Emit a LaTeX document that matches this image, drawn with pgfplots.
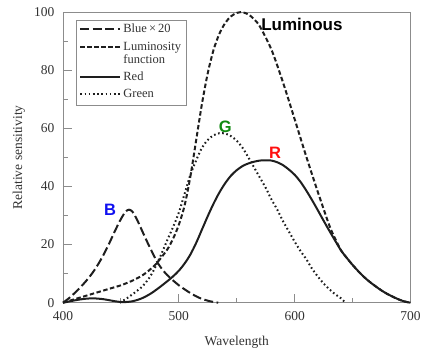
\documentclass[border=0pt]{standalone}
\usepackage{fontspec}
\setmainfont{Liberation Serif}
\newfontfamily\lblfont{Liberation Sans}
\usepackage{pgfplots}
\pgfplotsset{compat=1.18}
\definecolor{axgray}{HTML}{8C8C8C}
\definecolor{txtgray}{HTML}{333333}
\definecolor{curve}{HTML}{1E1E1E}
\definecolor{lblblue}{HTML}{1010F0}
\definecolor{lblgreen}{HTML}{108A10}
\definecolor{lblred}{HTML}{FF1010}
\begin{document}
\begin{tikzpicture}
\begin{axis}[
 scale only axis, width=347.5pt, height=290.7pt,
 xmin=400, xmax=700, ymin=0, ymax=100,
 xtick={400,500,600,700}, ytick={0,20,...,100},
 minor x tick num=1, minor y tick num=1,
 tick align=inside, xtick pos=bottom, ytick pos=left,
 major tick length=9pt, minor tick length=5pt,
 axis line style={axgray, line width=0.9pt},
 tick style={axgray, line width=0.9pt},
 font=\fontsize{13.5}{16}\selectfont,
 /pgf/number format/assume math mode=true,
 tick label style={text=txtgray},
 xticklabel style={yshift=-5pt},
 yticklabel style={xshift=-5pt},
 xlabel={Wavelength}, ylabel={Relative sensitivity},
 xlabel style={at={(axis description cs:0.5,-0.135)}, anchor=center, text=txtgray},
 ylabel style={at={(axis description cs:-0.1266,0.5)}, anchor=center, text=txtgray},
 clip=false,
 legend style={at={(0.0374,0.9725)}, anchor=north west, draw=axgray, line width=0.8pt,
   font=\fontsize{12.5}{13}\selectfont, text=txtgray,
   cells={anchor=base west}, nodes={text depth=, inner ysep=2.2pt},
   inner xsep=3pt, inner ysep=1pt},
 legend image code/.code={\draw[#1] (0pt,3.5pt) -- (29pt,3.5pt); \path (0pt,3.5pt) -- (40pt,3.5pt);},
 every axis plot/.append style={line width=2pt},
]
% Blue x 20
\addplot[curve, dash pattern=on 9pt off 3.5pt, smooth] coordinates {
(400,0)(405,1.5)(410,3.3)(415,5.3)(420,7.5)(425,10)(430,13)(435,16.5)(440,20.5)(445,24.8)(450,28.8)(454,31.3)(457,32)(460,31.3)(464,28.5)(468,25)(472,21.5)(476,18.2)(481,14.2)(486,11.3)(490,9.5)(494,8)(500,6)(505,4.6)(510,3.3)(515,2.2)(520,1.3)(527,0.5)(534,0)
};
\addlegendentry{\strut Blue\,×\,20}
% Luminosity function
\addplot[curve, dash pattern=on 4.5pt off 2.5pt, smooth] coordinates {
(400,0)(410,1.2)(420,2.4)(430,3.6)(440,4.8)(450,6)(460,7.6)(470,9.8)(480,13.2)(490,18.3)(495,22)(500,26.8)(505,33.5)(510,43.5)(515,56)(520,68.5)(525,79)(530,87)(535,92.5)(540,96.2)(545,98.5)(550,99.7)(554,100)(560,99.2)(565,97.5)(570,95)(580,87)(590,75.7)(600,63.1)(610,50.3)(620,38.1)(630,26.5)(635,22)(640,18)(645,15.4)(650,13)(655,10.8)(660,8.8)(665,7.1)(670,5.6)(675,4.2)(680,3)(685,2)(690,1.1)(695,0.4)(700,0)
};
\addlegendentry{\begin{tabular}[t]{@{}l@{}}Luminosity\\function\end{tabular}}
% Red
\addplot[curve, smooth] coordinates {
(400,0)(410,0.8)(418,1.3)(426,1.5)(435,1.2)(445,0.5)(452,0.2)(460,0.5)(468,1.5)(476,3.2)(485,5.8)(494,8.7)(500,11)(505,13.5)(510,16.6)(515,20.6)(520,25.2)(525,29.8)(530,34.1)(535,37.9)(540,41.1)(545,43.7)(550,45.6)(555,47)(560,47.9)(565,48.5)(570,48.9)(575,49)(580,48.9)(585,48.3)(590,47.3)(595,45.8)(600,44)(605,41.6)(610,38.6)(615,35.3)(620,31.8)(625,28.2)(630,24.7)(635,21.3)(640,18)(645,15.4)(650,13)(655,10.8)(660,8.8)(665,7.1)(670,5.6)(675,4.2)(680,3)(685,2)(690,1.1)(695,0.4)(700,0)
};
\addlegendentry{\strut Red}
% Green
\addplot[curve, dash pattern=on 1.6pt off 2.6pt, smooth] coordinates {
(449,0)(455,1.5)(462,3.5)(469,5.8)(476,9.5)(483,15)(490,21.5)(495,26)(500,31)(505,37.5)(510,44)(515,49)(520,53.3)(525,56)(530,57.6)(535,58.3)(540,58.2)(545,57.3)(550,55.7)(555,53.3)(560,50)(565,46.5)(570,43)(575,39.5)(580,35.5)(585,32)(590,28)(595,24.5)(600,21)(605,17.8)(610,15)(615,11.7)(620,9)(625,6.6)(630,4.6)(635,2.9)(640,1.5)(643,0.3)
};
\addlegendentry{\strut Green}
\node[font={\lblfont\bfseries\fontsize{16.5}{18}\selectfont}, text=lblblue] at (axis cs:440.6,32) {B};
\node[font={\lblfont\bfseries\fontsize{16.5}{18}\selectfont}, text=lblgreen] at (axis cs:540,60.5) {G};
\node[font={\lblfont\bfseries\fontsize{16.5}{18}\selectfont}, text=lblred] at (axis cs:583,51.5) {R};
\node[font={\lblfont\bfseries\fontsize{17}{19}\selectfont}, text=black, anchor=west, inner sep=0pt] at (axis cs:571,95.6) {Luminous};
\end{axis}
\pgfresetboundingbox
\path ([xshift=-63pt,yshift=-46.3pt]current axis.south west) rectangle ([xshift=11.5pt,yshift=12pt]current axis.north east);
\end{tikzpicture}
\end{document}
